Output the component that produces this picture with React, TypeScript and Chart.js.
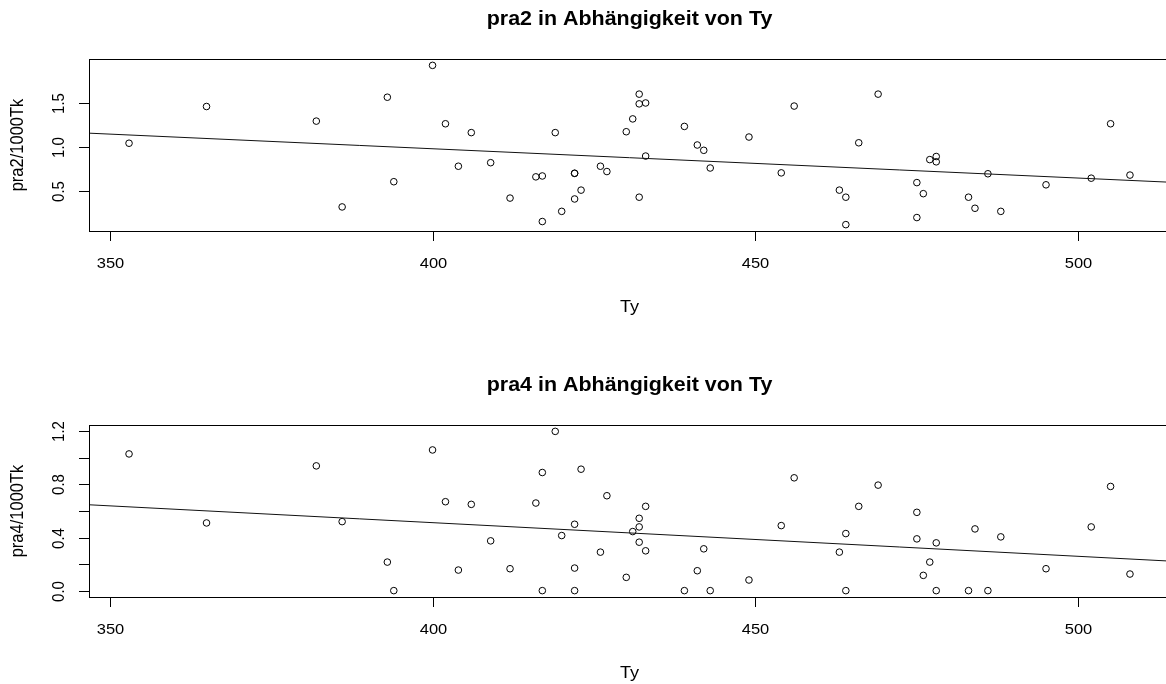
import React, { useEffect, useRef } from "react";
import { Chart, registerables } from "chart.js";

Chart.register(...registerables);

// Ty per observation (shared by both panels)
const TY = [
  353, 365, 382, 386, 393, 394, 400, 402, 404, 406, 409, 412, 416, 417, 417, 419,
  420, 422, 422, 422, 423, 426, 427, 430, 431, 432, 432, 432, 433, 433, 439, 441,
  442, 443, 449, 454, 456, 463, 464, 464, 466, 469, 475, 475, 476, 477, 478, 478,
  483, 484, 486, 488, 495, 502, 505, 508,
];

// pra2 per 1000 Tk
const PRA2 = [
  1.04, 1.455, 1.29, 0.32, 1.56, 0.605, 1.92, 1.26, 0.78, 1.16, 0.82, 0.42, 0.66, 0.67, 0.155, 1.16,
  0.27, 0.7, 0.7, 0.41, 0.51, 0.78, 0.72, 1.17, 1.315, 1.595, 1.485, 0.43, 1.495, 0.895, 1.23, 1.02,
  0.96, 0.76, 1.11, 0.705, 1.46, 0.51, 0.43, 0.12, 1.045, 1.595, 0.595, 0.2, 0.47, 0.855, 0.89, 0.83,
  0.43, 0.305, 0.695, 0.27, 0.57, 0.645, 1.26, 0.68,
];

// pra4 per 1000 Tk
const PRA4 = [
  1.03, 0.51, 0.94, 0.52, 0.215, 0.0, 1.06, 0.67, 0.155, 0.65, 0.375, 0.165, 0.66, 0.89, 0.0, 1.2,
  0.415, 0.5, 0.17, 0.0, 0.915, 0.29, 0.715, 0.1, 0.445, 0.545, 0.48, 0.365, 0.635, 0.3, 0.0, 0.15,
  0.315, 0.0, 0.08, 0.49, 0.85, 0.29, 0.43, 0.0, 0.635, 0.795, 0.59, 0.39, 0.115, 0.215, 0.36, 0.0,
  0.0, 0.465, 0.0, 0.405, 0.165, 0.48, 0.785, 0.125,
];

const X_TICKS = [350, 400, 450, 500];
const X_TICK_LABELS = ["350", "400", "450", "500"];
const PRA2_TICKS = [0.5, 1.0, 1.5];
const PRA2_TICK_LABELS = ["0.5", "1.0", "1.5"];
const PRA4_TICKS = [0.0, 0.2, 0.4, 0.6, 0.8, 1.0, 1.2];
const PRA4_TICK_LABELS = ["0.0", "", "0.4", "", "0.8", "", "1.2"];

const FONT = '"Liberation Sans", Arial, sans-serif';
const TEXT_SX = 1.1; // horizontal text stretch

// Axis limits padded by 4% of the data range on each side
function paddedRange(values: number[]): [number, number] {
  const lo = Math.min(...values);
  const hi = Math.max(...values);
  const pad = (hi - lo) * 0.04;
  return [lo - pad, hi + pad];
}

// Ordinary least squares fit y = a + b x
function leastSquares(xs: number[], ys: number[]) {
  const n = xs.length;
  const mx = xs.reduce((s, v) => s + v, 0) / n;
  const my = ys.reduce((s, v) => s + v, 0) / n;
  let sxy = 0;
  let sxx = 0;
  for (let i = 0; i < n; i++) {
    sxy += (xs[i] - mx) * (ys[i] - my);
    sxx += (xs[i] - mx) * (xs[i] - mx);
  }
  const b = sxy / sxx;
  return { a: my - b * mx, b };
}

function drawText(
  ctx: CanvasRenderingContext2D,
  text: string,
  x: number,
  y: number,
  font: string,
  align: CanvasTextAlign,
  baseline: CanvasTextBaseline,
  vertical = false
) {
  ctx.save();
  ctx.translate(x, y);
  ctx.scale(TEXT_SX, 1);
  if (vertical) ctx.rotate(-Math.PI / 2);
  ctx.font = font;
  ctx.fillStyle = "#000";
  ctx.textAlign = align;
  ctx.textBaseline = baseline;
  ctx.fillText(text, 0, 0);
  ctx.restore();
}

type PanelProps = {
  title: string;
  ylab: string;
  ys: number[];
  yTicks: number[];
  yTickLabels: string[];
  plotTop: number;
  plotBottom: number;
};

const CANVAS_W = 1180;
const CANVAS_H = 342;
const PLOT_LEFT = 89;
const PLOT_RIGHT = 1170;

function Panel({ title, ylab, ys, yTicks, yTickLabels, plotTop, plotBottom }: PanelProps) {
  const ref = useRef<HTMLCanvasElement | null>(null);

  useEffect(() => {
    const canvas = ref.current;
    if (!canvas) return;
    const [xMin, xMax] = paddedRange(TY);
    const [yMin, yMax] = paddedRange(ys);
    const fit = leastSquares(TY, ys);

    const framePlugin = {
      id: "baseFrame",
      afterDraw(chart: any) {
        const ctx: CanvasRenderingContext2D = chart.ctx;
        const { left, right, top, bottom } = chart.chartArea;
        const xs = chart.scales.x;
        const yScale = chart.scales.y;
        ctx.save();
        ctx.strokeStyle = "#000";
        ctx.lineWidth = 1;
        ctx.strokeRect(left + 0.5, top + 0.5, right - left, bottom - top);

        // x ticks and labels
        xs.ticks.forEach((t: any, i: number) => {
          const px = Math.round(xs.getPixelForValue(t.value)) + 0.5;
          ctx.beginPath();
          ctx.moveTo(px, bottom);
          ctx.lineTo(px, bottom + 10);
          ctx.stroke();
          drawText(ctx, X_TICK_LABELS[i], px, bottom + 33, `15px ${FONT}`, "center", "middle");
        });

        // y ticks and labels
        yScale.ticks.forEach((t: any, i: number) => {
          const py = Math.round(yScale.getPixelForValue(t.value)) + 0.5;
          ctx.beginPath();
          ctx.moveTo(left - 10, py);
          ctx.lineTo(left, py);
          ctx.stroke();
          const lbl = yTickLabels[i];
          if (lbl) drawText(ctx, lbl, left - 30, py, `15px ${FONT}`, "center", "middle", true);
        });
        ctx.restore();

        const cx = (left + right) / 2;
        drawText(ctx, title, cx, top - 34, `bold 19.5px ${FONT}`, "center", "alphabetic");
        drawText(ctx, "Ty", cx, bottom + 76, `16.5px ${FONT}`, "center", "middle");
        drawText(ctx, ylab, left - 71, (top + bottom) / 2, `16.5px ${FONT}`, "center", "middle", true);
      },
    };

    const chart = new Chart(canvas, {
      type: "scatter",
      data: {
        datasets: [
          {
            type: "line",
            data: [
              { x: xMin, y: fit.a + fit.b * xMin },
              { x: xMax, y: fit.a + fit.b * xMax },
            ],
            borderColor: "#111",
            borderWidth: 1,
            pointRadius: 0,
            fill: false,
            tension: 0,
          } as any,
          {
            type: "scatter",
            data: TY.map((x, i) => ({ x, y: ys[i] })),
            pointStyle: "circle",
            pointRadius: 3.3,
            pointHoverRadius: 3.3,
            pointBorderWidth: 1,
            borderColor: "#000",
            backgroundColor: "rgba(0,0,0,0)",
          } as any,
        ],
      },
      options: {
        animation: false,
        responsive: false,
        events: [],
        layout: {
          padding: {
            left: PLOT_LEFT,
            right: CANVAS_W - PLOT_RIGHT,
            top: plotTop,
            bottom: CANVAS_H - plotBottom,
          },
        },
        scales: {
          x: {
            type: "linear",
            min: xMin,
            max: xMax,
            display: false,
            afterBuildTicks: (s: any) => {
              s.ticks = X_TICKS.map((v) => ({ value: v }));
            },
          },
          y: {
            type: "linear",
            min: yMin,
            max: yMax,
            display: false,
            afterBuildTicks: (s: any) => {
              s.ticks = yTicks.map((v) => ({ value: v }));
            },
          },
        },
        plugins: {
          legend: { display: false },
          tooltip: { enabled: false },
          title: { display: false },
        },
      },
      plugins: [framePlugin],
    });
    return () => chart.destroy();
  }, [title, ylab, ys, yTicks, yTickLabels, plotTop, plotBottom]);

  return <canvas ref={ref} width={CANVAS_W} height={CANVAS_H} style={{ display: "block" }} />;
}

export default function App() {
  return (
    <div
      style={{
        position: "fixed",
        left: 0,
        top: 0,
        width: 1166,
        height: 684,
        overflow: "hidden",
        background: "#fff",
      }}
    >
      <div style={{ position: "absolute", left: 0, top: 0 }}>
        <Panel
          title="pra2 in Abhängigkeit von Ty"
          ylab="pra2/1000Tk"
          ys={PRA2}
          yTicks={PRA2_TICKS}
          yTickLabels={PRA2_TICK_LABELS}
          plotTop={59}
          plotBottom={231}
        />
      </div>
      <div style={{ position: "absolute", left: 0, top: 342 }}>
        <Panel
          title="pra4 in Abhängigkeit von Ty"
          ylab="pra4/1000Tk"
          ys={PRA4}
          yTicks={PRA4_TICKS}
          yTickLabels={PRA4_TICK_LABELS}
          plotTop={83}
          plotBottom={255}
        />
      </div>
    </div>
  );
}
